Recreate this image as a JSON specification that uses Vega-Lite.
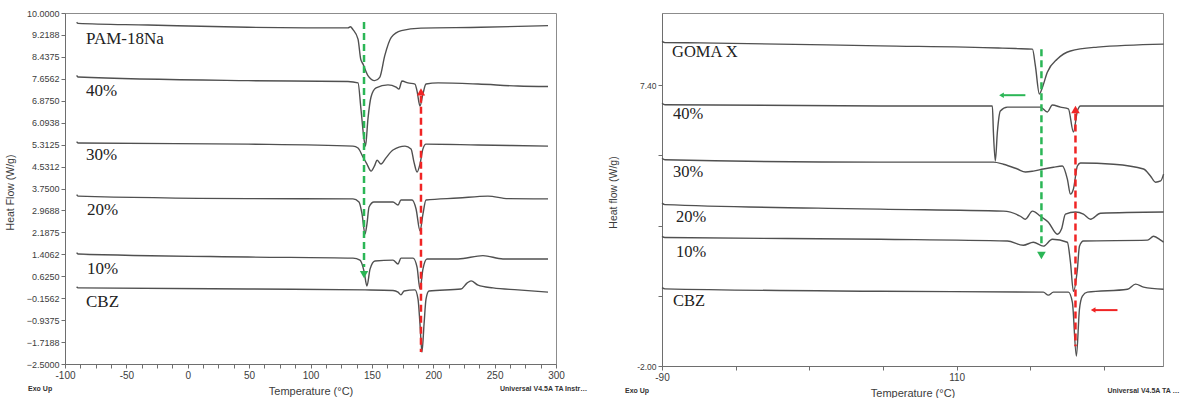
{
  "$schema": "https://vega.github.io/schema/vega-lite/v6.json",
  "padding": {"left": 4, "top": 8, "right": 0, "bottom": 0},
  "bounds": "flush",
  "spacing": 106,
  "background": "white",
  "config": {
    "view": {"stroke": "#8c8c8c", "strokeWidth": 1},
    "axis": {"grid": false, "domainColor": "#6e6e6e", "tickColor": "#6e6e6e", "labelColor": "#3c3c3c", "titleColor": "#3c3c3c", "labelFont": "Liberation Sans", "titleFont": "Liberation Sans", "titleFontWeight": "normal", "tickSize": 4, "labelPadding": 2, "labelOverlap": false, "labelFlush": false}
  },
  "datasets": {
    "L": [
      {"s":"PAM","T":-90.5,"v":9.67},{"s":"PAM","T":-89.4,"v":9.63},{"s":"PAM","T":-32.4,"v":9.57},{"s":"PAM","T":49.1,"v":9.49},{"s":"PAM","T":106.1,"v":9.47},{"s":"PAM","T":130.5,"v":9.47},{"s":"PAM","T":132.5,"v":9.51},{"s":"PAM","T":134.6,"v":9.41},{"s":"PAM","T":138.7,"v":9.07},{"s":"PAM","T":140.9,"v":8.36},{"s":"PAM","T":142.8,"v":8.18},{"s":"PAM","T":146.8,"v":7.77},{"s":"PAM","T":152.3,"v":7.59},{"s":"PAM","T":156.4,"v":7.71},{"s":"PAM","T":160.5,"v":8.48},{"s":"PAM","T":165.8,"v":9.13},{"s":"PAM","T":174.0,"v":9.37},{"s":"PAM","T":190.0,"v":9.46},{"s":"PAM","T":238.9,"v":9.49},{"s":"PAM","T":293.5,"v":9.55},
      {"s":"40","T":-90.5,"v":7.78},{"s":"40","T":-89.4,"v":7.72},{"s":"40","T":49.1,"v":7.59},{"s":"40","T":130.5,"v":7.56},{"s":"40","T":138.7,"v":7.51},{"s":"40","T":141.1,"v":6.58},{"s":"40","T":143.6,"v":5.51},{"s":"40","T":144.8,"v":5.26},{"s":"40","T":146.8,"v":6.23},{"s":"40","T":149.3,"v":7.01},{"s":"40","T":153.4,"v":7.33},{"s":"40","T":163.1,"v":7.44},{"s":"40","T":169.7,"v":7.36},{"s":"40","T":172.1,"v":7.29},{"s":"40","T":174.5,"v":7.58},{"s":"40","T":179.4,"v":7.51},{"s":"40","T":185.1,"v":7.47},{"s":"40","T":186.8,"v":7.22},{"s":"40","T":189.2,"v":6.69},{"s":"40","T":191.6,"v":7.12},{"s":"40","T":194.1,"v":7.47},{"s":"40","T":203.9,"v":7.51},{"s":"40","T":236.5,"v":7.47},{"s":"40","T":269.0,"v":7.40},{"s":"40","T":293.5,"v":7.38},
      {"s":"30","T":-90.5,"v":5.42},{"s":"30","T":-89.4,"v":5.37},{"s":"30","T":49.1,"v":5.33},{"s":"30","T":134.6,"v":5.26},{"s":"30","T":138.7,"v":5.19},{"s":"30","T":142.8,"v":4.87},{"s":"30","T":146.0,"v":4.62},{"s":"30","T":149.3,"v":4.37},{"s":"30","T":152.5,"v":4.59},{"s":"30","T":154.2,"v":4.76},{"s":"30","T":157.4,"v":4.62},{"s":"30","T":161.5,"v":4.84},{"s":"30","T":167.2,"v":5.12},{"s":"30","T":177.0,"v":5.26},{"s":"30","T":181.9,"v":5.16},{"s":"30","T":184.3,"v":4.69},{"s":"30","T":186.8,"v":4.34},{"s":"30","T":189.2,"v":4.62},{"s":"30","T":191.6,"v":5.16},{"s":"30","T":194.1,"v":5.33},{"s":"30","T":236.5,"v":5.30},{"s":"30","T":293.5,"v":5.26},
      {"s":"20","T":-90.5,"v":3.53},{"s":"20","T":-89.4,"v":3.48},{"s":"20","T":49.1,"v":3.39},{"s":"20","T":134.6,"v":3.38},{"s":"20","T":139.5,"v":3.27},{"s":"20","T":142.0,"v":2.84},{"s":"20","T":144.4,"v":2.13},{"s":"20","T":146.0,"v":2.49},{"s":"20","T":147.7,"v":3.09},{"s":"20","T":151.7,"v":3.27},{"s":"20","T":167.2,"v":3.27},{"s":"20","T":171.3,"v":3.16},{"s":"20","T":173.7,"v":3.34},{"s":"20","T":182.7,"v":3.34},{"s":"20","T":186.0,"v":3.02},{"s":"20","T":189.2,"v":2.24},{"s":"20","T":191.6,"v":2.84},{"s":"20","T":194.1,"v":3.34},{"s":"20","T":220.2,"v":3.41},{"s":"20","T":244.6,"v":3.48},{"s":"20","T":260.9,"v":3.39},{"s":"20","T":293.5,"v":3.38},
      {"s":"10","T":-90.5,"v":1.47},{"s":"10","T":-89.4,"v":1.42},{"s":"10","T":49.1,"v":1.31},{"s":"10","T":134.6,"v":1.27},{"s":"10","T":140.3,"v":1.20},{"s":"10","T":143.6,"v":0.81},{"s":"10","T":146.0,"v":0.28},{"s":"10","T":148.5,"v":0.88},{"s":"10","T":152.5,"v":1.17},{"s":"10","T":167.2,"v":1.20},{"s":"10","T":171.3,"v":1.06},{"s":"10","T":173.7,"v":1.27},{"s":"10","T":183.5,"v":1.27},{"s":"10","T":186.8,"v":0.95},{"s":"10","T":189.2,"v":0.17},{"s":"10","T":191.6,"v":0.88},{"s":"10","T":194.9,"v":1.24},{"s":"10","T":220.2,"v":1.24},{"s":"10","T":240.5,"v":1.36},{"s":"10","T":256.8,"v":1.24},{"s":"10","T":293.5,"v":1.24},
      {"s":"CBZ","T":-90.5,"v":0.25},{"s":"CBZ","T":-89.4,"v":0.21},{"s":"CBZ","T":49.1,"v":0.17},{"s":"CBZ","T":144.4,"v":0.14},{"s":"CBZ","T":167.2,"v":0.12},{"s":"CBZ","T":171.3,"v":0.06},{"s":"CBZ","T":173.7,"v":-0.04},{"s":"CBZ","T":176.2,"v":0.10},{"s":"CBZ","T":185.1,"v":0.14},{"s":"CBZ","T":187.6,"v":-0.19},{"s":"CBZ","T":189.2,"v":-1.08},{"s":"CBZ","T":190.8,"v":-2.07},{"s":"CBZ","T":192.5,"v":-1.08},{"s":"CBZ","T":194.1,"v":-0.19},{"s":"CBZ","T":196.5,"v":0.10},{"s":"CBZ","T":222.6,"v":0.17},{"s":"CBZ","T":227.5,"v":0.38},{"s":"CBZ","T":230.8,"v":0.46},{"s":"CBZ","T":236.5,"v":0.31},{"s":"CBZ","T":248.7,"v":0.21},{"s":"CBZ","T":269.0,"v":0.14},{"s":"CBZ","T":293.5,"v":0.06}
    ],
    "R": [
      {"s":"GOMA","T":-90,"v":8.86},{"s":"GOMA","T":-88,"v":8.82},{"s":"GOMA","T":-64.2,"v":8.81},{"s":"GOMA","T":58.1,"v":8.71},{"s":"GOMA","T":138.3,"v":8.64},{"s":"GOMA","T":150,"v":8.62},{"s":"GOMA","T":161.4,"v":8.60},{"s":"GOMA","T":163.4,"v":8.04},{"s":"GOMA","T":166.1,"v":7.10},{"s":"GOMA","T":168,"v":7.30},{"s":"GOMA","T":171.5,"v":7.83},{"s":"GOMA","T":178.3,"v":8.27},{"s":"GOMA","T":187.2,"v":8.54},{"s":"GOMA","T":205.5,"v":8.67},{"s":"GOMA","T":250.4,"v":8.77},
      {"s":"40","T":-90,"v":6.79},{"s":"40","T":-88,"v":6.74},{"s":"40","T":58.1,"v":6.70},{"s":"40","T":134.2,"v":6.70},{"s":"40","T":134.9,"v":5.83},{"s":"40","T":136.2,"v":4.86},{"s":"40","T":137.6,"v":5.83},{"s":"40","T":139.6,"v":6.53},{"s":"40","T":144.4,"v":6.66},{"s":"40","T":166.8,"v":6.66},{"s":"40","T":171.5,"v":6.50},{"s":"40","T":174.9,"v":6.73},{"s":"40","T":180.4,"v":6.66},{"s":"40","T":185.8,"v":6.60},{"s":"40","T":189.2,"v":5.83},{"s":"40","T":191.9,"v":6.53},{"s":"40","T":194.0,"v":6.70},{"s":"40","T":250.4,"v":6.70},
      {"s":"30","T":-90,"v":4.95},{"s":"30","T":-88,"v":4.90},{"s":"30","T":58.1,"v":4.82},{"s":"30","T":135,"v":4.82},{"s":"30","T":141.7,"v":4.75},{"s":"30","T":151.2,"v":4.59},{"s":"30","T":156.6,"v":4.49},{"s":"30","T":162.0,"v":4.52},{"s":"30","T":168.8,"v":4.59},{"s":"30","T":175.6,"v":4.65},{"s":"30","T":181.7,"v":4.69},{"s":"30","T":185.1,"v":4.25},{"s":"30","T":187.2,"v":3.75},{"s":"30","T":189.2,"v":3.92},{"s":"30","T":191.9,"v":4.69},{"s":"30","T":194.0,"v":4.79},{"s":"30","T":216.4,"v":4.75},{"s":"30","T":236.8,"v":4.59},{"s":"30","T":241.6,"v":4.35},{"s":"30","T":244.9,"v":4.15},{"s":"30","T":248.4,"v":4.19},{"s":"30","T":250.4,"v":4.42},
      {"s":"20","T":-90,"v":3.45},{"s":"20","T":-88,"v":3.40},{"s":"20","T":58.1,"v":3.25},{"s":"20","T":141.7,"v":3.18},{"s":"20","T":153.2,"v":3.01},{"s":"20","T":156.6,"v":2.91},{"s":"20","T":161.4,"v":3.18},{"s":"20","T":166.8,"v":3.01},{"s":"20","T":172.2,"v":2.81},{"s":"20","T":178.3,"v":2.41},{"s":"20","T":181.1,"v":2.58},{"s":"20","T":183.8,"v":3.08},{"s":"20","T":190.6,"v":3.15},{"s":"20","T":196.0,"v":3.08},{"s":"20","T":200.8,"v":2.91},{"s":"20","T":207.6,"v":3.11},{"s":"20","T":250.4,"v":3.15},
      {"s":"10","T":-90,"v":2.34},{"s":"10","T":-88,"v":2.30},{"s":"10","T":58.1,"v":2.24},{"s":"10","T":144.4,"v":2.18},{"s":"10","T":155.2,"v":2.04},{"s":"10","T":162.0,"v":2.14},{"s":"10","T":168.8,"v":2.01},{"s":"10","T":174.9,"v":2.24},{"s":"10","T":185.1,"v":2.14},{"s":"10","T":187.2,"v":1.47},{"s":"10","T":189.2,"v":0.50},{"s":"10","T":191.9,"v":1.24},{"s":"10","T":193.3,"v":2.01},{"s":"10","T":196.0,"v":2.18},{"s":"10","T":239.5,"v":2.21},{"s":"10","T":243.6,"v":2.34},{"s":"10","T":248.4,"v":2.21},{"s":"10","T":250.4,"v":2.14},
      {"s":"CBZ","T":-90,"v":0.62},{"s":"CBZ","T":-88,"v":0.58},{"s":"CBZ","T":58.1,"v":0.50},{"s":"CBZ","T":168.8,"v":0.47},{"s":"CBZ","T":172.2,"v":0.37},{"s":"CBZ","T":175.6,"v":0.47},{"s":"CBZ","T":185.8,"v":0.47},{"s":"CBZ","T":188.5,"v":0.13},{"s":"CBZ","T":191.2,"v":-1.67},{"s":"CBZ","T":193.3,"v":-0.10},{"s":"CBZ","T":195.3,"v":0.34},{"s":"CBZ","T":198.7,"v":0.47},{"s":"CBZ","T":225.9,"v":0.57},{"s":"CBZ","T":231.4,"v":0.74},{"s":"CBZ","T":236.8,"v":0.64},{"s":"CBZ","T":250.4,"v":0.57}
    ],
    "LT": [
      {"t":"PAM-18Na","T":-82.9,"v":9.07},{"t":"40%","T":-82.9,"v":7.22},{"t":"30%","T":-82.9,"v":4.94},{"t":"20%","T":-82.1,"v":2.98},{"t":"10%","T":-82.1,"v":0.88},{"t":"CBZ","T":-82.9,"v":-0.29}
    ],
    "RT": [
      {"t":"GOMA X","T":-83.2,"v":8.50},{"t":"40%","T":-82.5,"v":6.43},{"t":"30%","T":-82.5,"v":4.49},{"t":"20%","T":-80.5,"v":2.98},{"t":"10%","T":-80.5,"v":1.81},{"t":"CBZ","T":-82.5,"v":0.17}
    ],
    "LA": [
      {"k":"green","T":143.6,"a":9.68,"b":0.95,"h":0.68},
      {"k":"red","T":190.0,"a":7.05,"b":-2.07,"h":7.19}
    ],
    "RA": [
      {"k":"green","T":167.5,"a":8.60,"b":2.05,"h":1.70},
      {"k":"red","T":190.6,"a":6.45,"b":-1.34,"h":6.58}
    ],
    "RH": [
      {"k":"green","v":7.06,"x1":141.7,"x2":156.6,"h":140.4},
      {"k":"red","v":-0.13,"x1":203.5,"x2":219.1,"h":202.6}
    ],
    "LN": [
      {"t":"Exo Up","T":-130.1,"v":-3.39},{"t":"Universal V4.5A TA Instruments","T":254.4,"v":-3.39}
    ],
    "RN": [
      {"t":"Exo Up","T":-115.1,"v":-2.85},{"t":"Universal V4.5A TA Instruments","T":212.3,"v":-2.85}
    ]
  },
  "hconcat": [
    {
      "width": 491,
      "height": 351,
      "encoding": {
        "x": {"field": "T", "type": "quantitative", "scale": {"domain": [-100, 300], "nice": false, "zero": false},
          "axis": {"values": [-100,-87.5,-75,-62.5,-50,-37.5,-25,-12.5,0,12.5,25,37.5,50,62.5,75,87.5,100,112.5,125,137.5,150,162.5,175,187.5,200,212.5,225,237.5,250,262.5,275,287.5,300],
            "labelExpr": "datum.value % 50 == 0 ? '' + datum.value : ''", "labelFontSize": 10, "title": "Temperature (°C)", "titleFontSize": 11, "titleY": 27, "titleBaseline": "middle"}},
        "y": {"field": "v", "type": "quantitative", "scale": {"domain": [-2.5, 10], "nice": false, "zero": false},
          "axis": {"values": [10,9.2188,8.4375,7.6562,6.875,6.0938,5.3125,4.5312,3.75,2.9688,2.1875,1.4062,0.625,-0.1562,-0.9375,-1.7188,-2.5], "format": ".4f",
            "labelFontSize": 9, "title": "Heat Flow (W/g)", "titleFontSize": 10.5, "titleX": -55, "titleY": 179, "titleBaseline": "middle"}}
      },
      "layer": [
        {"data": {"name": "L"}, "mark": {"type": "line", "color": "#505050", "strokeWidth": 1.4, "interpolate": "monotone"}, "encoding": {"detail": {"field": "s"}}},
        {"data": {"name": "LA"}, "transform": [{"filter": "datum.k == 'green'"}], "mark": {"type": "rule", "color": "#2bb656", "strokeWidth": 2.5, "strokeDash": [7, 4]}, "encoding": {"y": {"field": "a", "type": "quantitative"}, "y2": {"field": "b"}}},
        {"data": {"name": "LA"}, "transform": [{"filter": "datum.k == 'red'"}], "mark": {"type": "rule", "color": "#f02424", "strokeWidth": 2.5, "strokeDash": [7, 4]}, "encoding": {"y": {"field": "a", "type": "quantitative"}, "y2": {"field": "b"}}},
        {"data": {"name": "LA"}, "transform": [{"filter": "datum.k == 'green'"}], "mark": {"type": "point", "shape": "triangle-down", "filled": true, "opacity": 1, "color": "#2bb656", "size": 70}, "encoding": {"y": {"field": "h", "type": "quantitative"}}},
        {"data": {"name": "LA"}, "transform": [{"filter": "datum.k == 'red'"}], "mark": {"type": "point", "shape": "triangle-up", "filled": true, "opacity": 1, "color": "#f02424", "size": 70}, "encoding": {"y": {"field": "h", "type": "quantitative"}}},
        {"data": {"name": "LT"}, "mark": {"type": "text", "align": "left", "baseline": "middle", "font": "Liberation Serif", "fontSize": 17, "color": "#222222"}, "encoding": {"text": {"field": "t"}}},
        {"data": {"name": "LN"}, "mark": {"type": "text", "align": "left", "baseline": "middle", "font": "Liberation Sans", "fontSize": 7, "fontWeight": "bold", "color": "#333333", "limit": 88, "ellipsis": ""}, "encoding": {"text": {"field": "t"}}}
      ]
    },
    {
      "width": 501,
      "height": 353,
      "encoding": {
        "x": {"field": "T", "type": "quantitative", "scale": {"domain": [-90, 250], "nice": false, "zero": false},
          "axis": {"values": [-90,-40,10,60,110,160,210], "labelExpr": "datum.value == -90 || datum.value == 110 ? '' + datum.value : ''", "labelFontSize": 10, "title": "Temperature (°C)", "titleFontSize": 11, "titleY": 27, "titleBaseline": "middle"}},
        "y": {"field": "v", "type": "quantitative", "scale": {"domain": [-2.0, 9.81], "nice": false, "zero": false},
          "axis": {"values": [7.4, 5.05, 2.7, 0.35, -2], "labelExpr": "datum.value == 7.4 ? '7.40' : datum.value == -2 ? '-2.00' : ''", "labelFontSize": 8.5, "title": "Heat flow (W/g)", "titleFontSize": 10.5, "titleX": -49, "titleY": 179, "titleBaseline": "middle"}}
      },
      "layer": [
        {"data": {"name": "R"}, "mark": {"type": "line", "color": "#505050", "strokeWidth": 1.4, "interpolate": "monotone"}, "encoding": {"detail": {"field": "s"}}},
        {"data": {"name": "RA"}, "transform": [{"filter": "datum.k == 'green'"}], "mark": {"type": "rule", "color": "#2bb656", "strokeWidth": 2.5, "strokeDash": [7, 4]}, "encoding": {"y": {"field": "a", "type": "quantitative"}, "y2": {"field": "b"}}},
        {"data": {"name": "RA"}, "transform": [{"filter": "datum.k == 'red'"}], "mark": {"type": "rule", "color": "#f02424", "strokeWidth": 2.5, "strokeDash": [7, 4]}, "encoding": {"y": {"field": "a", "type": "quantitative"}, "y2": {"field": "b"}}},
        {"data": {"name": "RA"}, "transform": [{"filter": "datum.k == 'green'"}], "mark": {"type": "point", "shape": "triangle-down", "filled": true, "opacity": 1, "color": "#2bb656", "size": 75}, "encoding": {"y": {"field": "h", "type": "quantitative"}}},
        {"data": {"name": "RA"}, "transform": [{"filter": "datum.k == 'red'"}], "mark": {"type": "point", "shape": "triangle-up", "filled": true, "opacity": 1, "color": "#f02424", "size": 75}, "encoding": {"y": {"field": "h", "type": "quantitative"}}},
        {"data": {"name": "RH"}, "transform": [{"filter": "datum.k == 'green'"}], "mark": {"type": "rule", "color": "#2bb656", "strokeWidth": 2}, "encoding": {"x": {"field": "x1", "type": "quantitative"}, "x2": {"field": "x2"}}},
        {"data": {"name": "RH"}, "transform": [{"filter": "datum.k == 'red'"}], "mark": {"type": "rule", "color": "#f02424", "strokeWidth": 2}, "encoding": {"x": {"field": "x1", "type": "quantitative"}, "x2": {"field": "x2"}}},
        {"data": {"name": "RH"}, "transform": [{"filter": "datum.k == 'green'"}], "mark": {"type": "point", "shape": "triangle-left", "filled": true, "opacity": 1, "color": "#2bb656", "size": 30}, "encoding": {"x": {"field": "h", "type": "quantitative"}}},
        {"data": {"name": "RH"}, "transform": [{"filter": "datum.k == 'red'"}], "mark": {"type": "point", "shape": "triangle-left", "filled": true, "opacity": 1, "color": "#f02424", "size": 30}, "encoding": {"x": {"field": "h", "type": "quantitative"}}},
        {"data": {"name": "RT"}, "mark": {"type": "text", "align": "left", "baseline": "middle", "font": "Liberation Serif", "fontSize": 16.5, "color": "#222222"}, "encoding": {"text": {"field": "t"}}},
        {"data": {"name": "RN"}, "mark": {"type": "text", "align": "left", "baseline": "middle", "font": "Liberation Sans", "fontSize": 7, "fontWeight": "bold", "color": "#333333", "limit": 74, "ellipsis": ""}, "encoding": {"text": {"field": "t"}}}
      ]
    }
  ]
}
